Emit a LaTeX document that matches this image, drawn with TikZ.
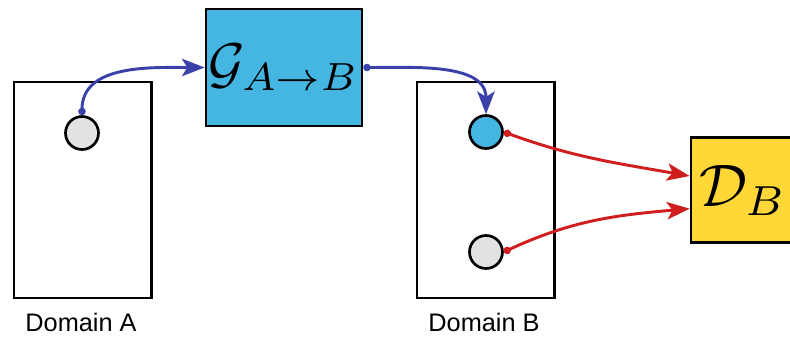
\documentclass[tikz,border=0pt]{standalone}
\usepackage{amsmath,amssymb}
\usepackage{fontspec}
\newfontfamily\domfont{Liberation Sans}
\usepackage{tikz}
\usetikzlibrary{arrows.meta,positioning}

\definecolor{genblue}{HTML}{45B6E1}
\definecolor{discyellow}{HTML}{FFD737}
\definecolor{linkblue}{HTML}{3A42AA}
\definecolor{linkred}{HTML}{D01E1E}
\definecolor{sample}{HTML}{E2E2E2}

\begin{document}
\begin{tikzpicture}[
    x=0.75pt, y=-0.75pt,
    dombox/.style={draw, line width=2pt, minimum width=103pt, minimum height=162pt, inner sep=0pt},
    netbox/.style={draw, line width=2pt, inner sep=0pt},
    sampledot/.style={draw, circle, line width=2pt, minimum size=24.75pt, inner sep=0pt, fill=sample},
    lbl/.style={font=\domfont\fontsize{19}{22}\selectfont, inner sep=0pt, text depth=0pt, anchor=base},
    arr/.style={{Circle[length=5.5pt]}-{Stealth[length=17pt, width=13pt, inset=4pt]}, line width=2.2pt}
]
\useasboundingbox (0,0) rectangle (790,337);
\clip (0,0) rectangle (790,337);

\node[dombox] (doma) at (82.5,190) {};
\node[dombox] (domb) at (485.5,190) {};
\node[lbl] (laba) at (81,331) {Domain A};
\node[lbl] (labb) at (484,331) {Domain B};

\node[sampledot] (xa) at (82,133) {};
\node[sampledot, fill=genblue] (xb) at (486,132) {};
\node[sampledot] (yb) at (486,252) {};

\node[netbox, fill=genblue, minimum width=117pt, minimum height=87.75pt] (gen) at (284,67.5) {\scalebox{4.2}{$\mathcal{G}_{A\to B}$}};
\node[netbox, fill=discyellow, minimum width=78pt, minimum height=78.75pt] (disc) at (743,190) {\scalebox{4.5}{$\mathcal{D}_B$}};

\draw[arr, linkblue] (xa.north) to[out=90, in=180] (gen.west);
\draw[arr, linkblue] (gen.east) to[out=0, in=90] (xb.north);
\draw[arr, linkred] (xb.east) to[out=-20, in=170] ([yshift=10.5pt]disc.west);
\draw[arr, linkred] (yb.east) to[out=25, in=185] ([yshift=-14pt]disc.west);
\end{tikzpicture}
\end{document}
